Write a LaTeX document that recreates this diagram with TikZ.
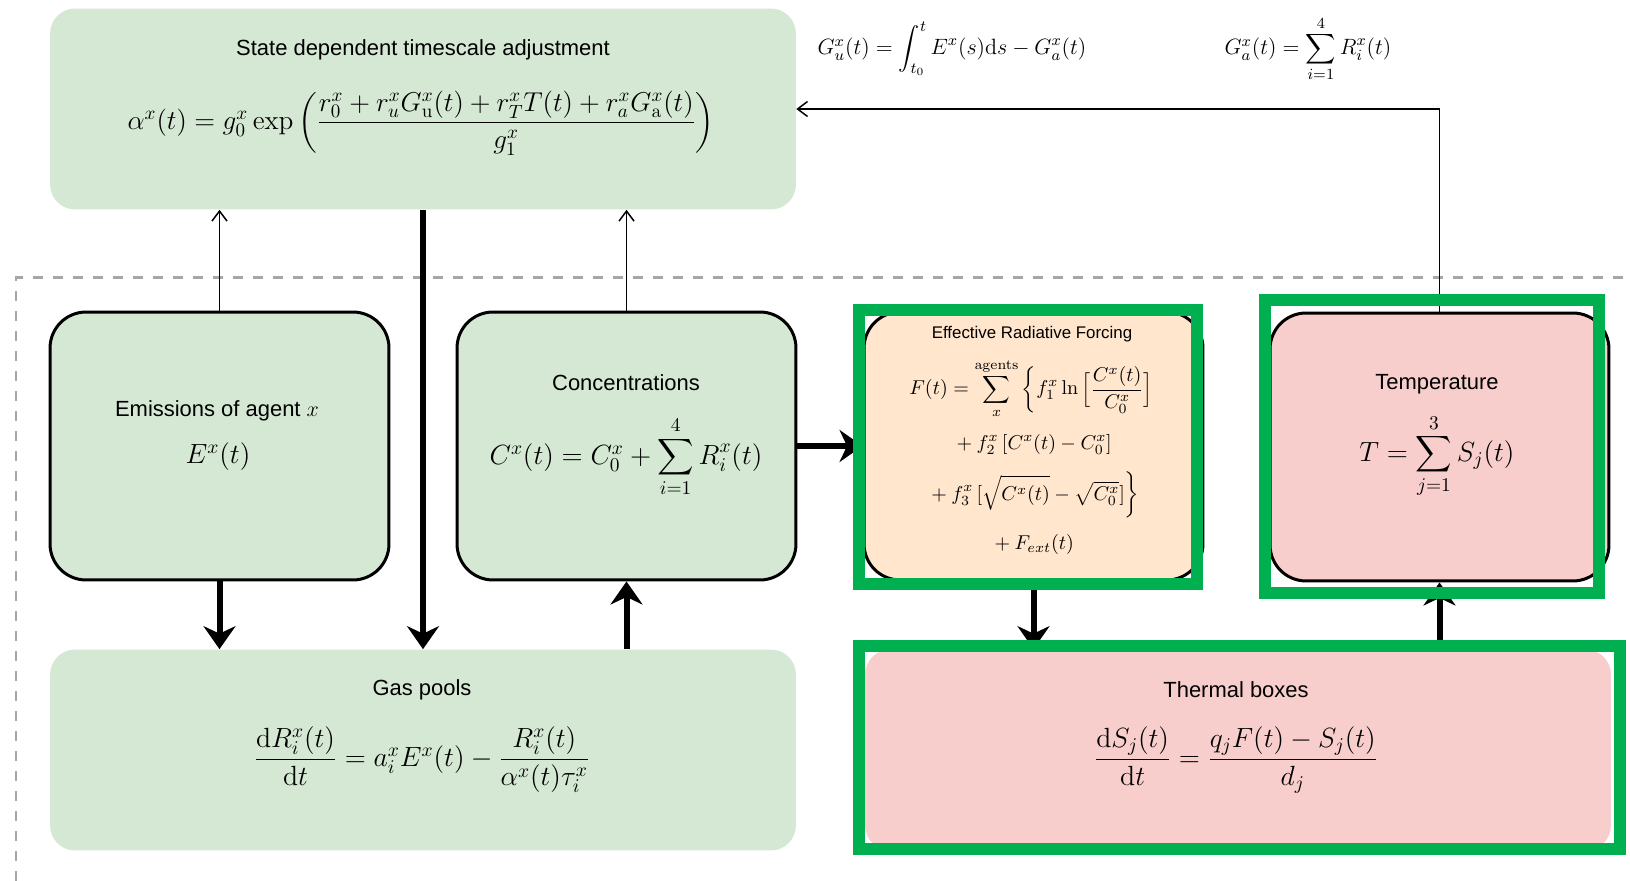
\RequirePackage{fix-cm}
\documentclass[tikz,border=0pt]{standalone}
\usepackage{amsmath}
\usepackage[no-math]{fontspec}
\setmainfont{Liberation Sans}
\usetikzlibrary{arrows.meta, positioning, calc}

\definecolor{poolgreen}{HTML}{D5E8D4}
\definecolor{forcing}{HTML}{FFE6CC}
\definecolor{heat}{HTML}{F8CECC}
\definecolor{hiligreen}{HTML}{00B050}
\definecolor{dashgray}{HTML}{A6A6A6}

\tikzset{
    >={Latex},
    widebox/.style={rectangle, rounded corners=0.5cm, fill=poolgreen, inner sep=0pt,
        minimum width=14.92cm, minimum height=4.02cm},
    smallbox/.style={rectangle, rounded corners=0.72cm, draw=black, line width=0.06cm,
        inner sep=0pt, minimum width=6.78cm, minimum height=5.36cm},
    boxtitle/.style={font=\fontsize{12.5}{15}\selectfont, inner sep=0pt},
    boxeq/.style={font=\fontsize{15.8}{19}\selectfont, inner sep=0pt},
    flow/.style={-{Stealth[length=4.6mm, width=6.4mm]}, line width=0.12cm},
    link/.style={-{Straight Barb[length=2mm, width=3mm]}, line width=0.03cm},
    hilite/.style={draw=hiligreen, line width=0.24cm}
}

\begin{document}
\begin{tikzpicture}[x=0.02cm, y=-0.02cm]
    \useasboundingbox (0,0) rectangle (1630,881);
    % dashed frame
    \draw[dashgray, line width=0.06cm, dash pattern=on 0.2cm off 0.2cm]
        (16,881) -- (16,278) -- (1630,278);
    % boxes
    \node[widebox] (adj) at (423,109) {};
    \node[widebox] (gas) at (423,750) {};
    \node[widebox, fill=heat] (therm) at (1238,750) {};
    \node[smallbox, fill=poolgreen] (emis) at (219.5,446) {};
    \node[smallbox, fill=poolgreen] (conc) at (626.5,446) {};
    \node[smallbox, fill=forcing] (erf) at (1033.5,446) {};
    \node[smallbox, fill=heat] (temp) at (1439.5,447) {};
    % texts
    \node[boxtitle] (adjtitle) at (423,50) {State dependent timescale adjustment};
    \node[boxeq, font=\fontsize{15.5}{18}\selectfont] (adjeq) at (421,123)
        {$\alpha^x(t) = g_0^x \exp\left(\dfrac{r_0^x + r_u^x G_\mathrm{u}^x(t) + r_T^x T(t) + r_a^x G_\mathrm{a}^x(t)}{g_1^x}\right)$};
    \node[boxeq, font=\fontsize{12.6}{15}\selectfont] (gueq) at (952,49)
        {$G_u^x(t) = \displaystyle\int_{t_0}^{t} E^x(s)\mathrm{d}s - G_a^x(t)$};
    \node[boxeq, font=\fontsize{12.6}{15}\selectfont] (gaeq) at (1308,49)
        {$G_a^x(t) = \displaystyle\sum_{i=1}^{4} R_i^x(t)$};
    \node[boxtitle] (emistitle) at (217,411) {Emissions of agent $x$};
    \node[boxeq] (emiseq) at (218,457) {$E^x(t)$};
    \node[boxtitle] (conctitle) at (626,383) {Concentrations};
    \node[boxeq] (conceq) at (626,457) {$C^x(t) = C_0^x + \displaystyle\sum_{i=1}^{4} R_i^x(t)$};
    \node[boxtitle, font=\fontsize{9.6}{11}\selectfont] (erftitle) at (1032,334)
        {Effective Radiative Forcing};
    \node[boxeq, font=\fontsize{11.4}{13}\selectfont] (erfeq) at (1032,458)
        {\setlength{\jot}{7.5pt}$\begin{gathered}
            F(t) = \sum_{x}^{\mathrm{agents}} \left\{ f_1^x \ln\Big[\frac{C^x(t)}{C_0^x}\Big] \right. \\
            {}+ f_2^x\,[C^x(t) - C_0^x] \\
            \left. {}+ f_3^x\,[\sqrt{C^x(t)} - \sqrt{C_0^x}] \vphantom{\Big[\frac{C^x(t)}{C_0^x}\Big]} \right\} \\
            {}+ F_{ext}(t)
        \end{gathered}$};
    \node[boxtitle] (temptitle) at (1437,384) {Temperature};
    \node[boxeq] (tempeq) at (1437,456) {$T = \displaystyle\sum_{j=1}^{3} S_j(t)$};
    \node[boxtitle] (gastitle) at (422,690) {Gas pools};
    \node[boxeq] (gaseq) at (422,760)
        {$\dfrac{\mathrm{d}R_i^x(t)}{\mathrm{d}t} = a_i^x E^x(t) - \dfrac{R_i^x(t)}{\alpha^x(t)\tau_i^x}$};
    \node[boxtitle] (thermtitle) at (1236,690) {Thermal boxes};
    \node[boxeq] (thermeq) at (1236,760)
        {$\dfrac{\mathrm{d}S_j(t)}{\mathrm{d}t} = \dfrac{q_j F(t) - S_j(t)}{d_j}$};
    % arrows
    \draw[link] (emis.north) -- (emis.north |- adj.south);
    \draw[link] (conc.north) -- (conc.north |- adj.south);
    \draw[link] (temp.north) |- (adj.east);
    \draw[flow] (adj.south) -- (adj.south |- gas.north);
    \draw[flow] (emis.south) -- (emis.south |- gas.north);
    \draw[flow] (conc.south |- gas.north) -- (conc.south);
    \draw[flow] (conc.east) -- (erf.west);
    \draw[flow] (erf.south) -- (erf.south |- therm.north);
    \draw[flow] (temp.south |- therm.north) -- (temp.south);
    % highlights
    \draw[hilite] (859,310) rectangle (1197,584);
    \draw[hilite] (1265,300) rectangle (1599,593);
    \draw[hilite] (859,646) rectangle (1620,849);
\end{tikzpicture}
\end{document}
